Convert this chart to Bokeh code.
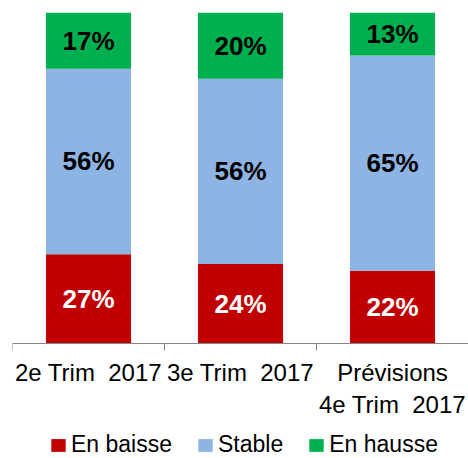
import numpy as np
from bokeh.plotting import figure
from bokeh.models import (Range1d, LinearAxis, FixedTicker, Legend, LegendItem,
                          ColumnDataSource)
from bokeh.core.properties import value
from bokeh.embed import file_html
from bokeh.resources import INLINE

categories = ["2e Trim\u00a0 2017", "3e Trim\u00a0 2017", "Prévisions\n4e Trim\u00a0 2017"]
en_baisse = [27, 24, 22]
stable = [56, 56, 65]
en_hausse = [17, 20, 13]
series_names = ["En baisse", "Stable", "En hausse"]
series_values = [en_baisse, stable, en_hausse]
colors = ["#C00000", "#8DB4E2", "#00B050"]
label_colors = ["white", "black", "black"]

FONT = "Liberation Sans"

xpos = np.arange(len(categories)) + 0.5

# frame spans 12..458 px vertically; 100 % = 331 px, leaving room below for labels/legend
y_bottom = -100 * 115 / 331

p = figure(width=468, height=458, output_backend="svg", toolbar_location=None,
           x_range=Range1d(0, len(categories)), y_range=Range1d(y_bottom, 100),
           x_axis_location=None, y_axis_location=None,
           min_border_left=12, min_border_right=0, min_border_top=12,
           min_border_bottom=0)
p.grid.visible = False
p.outline_line_color = None
p.background_fill_color = "white"
p.border_fill_color = "white"

data = {"x": xpos}
for n, v in zip(series_names, series_values):
    data[n] = v
source = ColumnDataSource(data)

renderers = p.vbar_stack(series_names, x="x", width=0.56, fill_color=colors,
                         line_color=None, source=source)

# labels at segment midpoints
lx, ly, lt, lc = [], [], [], []
bottom = np.zeros(len(categories))
for vals, col in zip(series_values, label_colors):
    vals = np.array(vals, dtype=float)
    mids = bottom + vals / 2
    for i in range(len(categories)):
        lx.append(xpos[i])
        ly.append(mids[i])
        lt.append(f"{int(vals[i])}%")
        lc.append(col)
    bottom = bottom + vals
lsrc = ColumnDataSource(dict(x=lx, y=ly, text=lt, color=lc))
p.text(x="x", y="y", text="text", text_color="color", source=lsrc,
       text_align="center", text_baseline="middle",
       text_font=value(FONT), text_font_style="bold", text_font_size="26px")

ax = LinearAxis(ticker=FixedTicker(ticks=list(map(float, xpos)),
                                   minor_ticks=list(range(len(categories) + 1))),
                fixed_location=0)
ax.major_label_overrides = {float(xi): c for xi, c in zip(xpos, categories)}
ax.major_tick_line_color = None
ax.major_tick_out = 0
ax.major_tick_in = 0
ax.minor_tick_line_color = "#868686"
ax.minor_tick_out = 7
ax.minor_tick_in = 0
ax.axis_line_color = "#868686"
ax.axis_line_width = 1
ax.major_label_text_font = FONT
ax.major_label_text_font_size = "24px"
ax.major_label_text_color = "black"
ax.major_label_standoff = 8
p.add_layout(ax, "below")

legend = Legend(items=[LegendItem(label=n, renderers=[r])
                       for n, r in zip(series_names, renderers)],
                orientation="horizontal", location=(37, 0),
                glyph_width=18, glyph_height=16, label_standoff=4, spacing=24,
                padding=0, margin=0, border_line_color=None,
                background_fill_alpha=0, label_text_font=FONT,
                label_text_font_size="23px", label_text_color="black",
                label_height=16)
p.add_layout(legend, "center")

open("out.html", "w").write(file_html(p, INLINE))
